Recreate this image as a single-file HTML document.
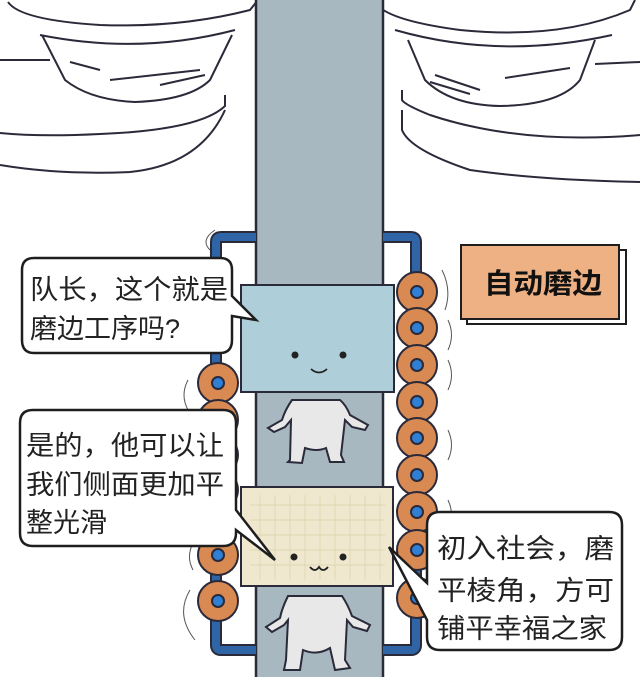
<!DOCTYPE html>
<html><head><meta charset="utf-8"><style>
body{margin:0;width:640px;height:677px;overflow:hidden;background:#fff}
svg{display:block}
text{font-family:"Liberation Sans","Noto Sans CJK SC",sans-serif;fill:#222}
</style></head><body>
<svg width="640" height="677" viewBox="0 0 640 677" xmlns="http://www.w3.org/2000/svg">
<g fill="none" stroke="#2a2a3a" stroke-width="2">
<!-- left machine -->
<path d="M0 60 L50 60"/>
<path d="M0 133 Q40 137 100 134 Q200 130 225 106 L225 95"/>
<path d="M0 165 Q60 175 130 172 Q200 165 225 110"/>
<path d="M8 2 Q20 20 100 25 Q180 28 250 10 L258 0"/>
<path d="M42 35 L65 80 Q90 100 135 102 Q190 100 210 80 L232 35"/>
<path d="M40 35 Q140 55 235 30"/>
<path d="M70 62 L100 70 M110 80 L200 70 M160 85 L205 75"/>
<!-- right machine -->
<path d="M640 62 L595 64"/>
<path d="M640 135 Q520 145 430 115 Q405 105 402 100 L402 90"/>
<path d="M640 182 Q540 180 470 170 Q410 150 402 130 L402 110"/>
<path d="M375 2 Q385 20 460 30 Q560 40 630 10 L635 0"/>
<path d="M408 40 L425 80 Q450 105 500 106 Q560 105 580 80 L595 40"/>
<path d="M395 30 Q500 60 612 35"/>
<path d="M435 75 L480 90 M505 78 L570 68 M430 82 L470 94"/>
</g>
<!-- belt -->
<rect x="256" y="-2" width="127" height="690" fill="#a8b8c0" stroke="#2a2a3a" stroke-width="2.5"/>
<!-- blue frame -->
<path d="M256 237 L221 237 Q216 237 216 242 L216 645 Q216 650 221 650 L256 650" fill="none" stroke="#2a2a3a" stroke-width="12"/>
<path d="M256 237 L221 237 Q216 237 216 242 L216 645 Q216 650 221 650 L256 650" fill="none" stroke="#2f65a6" stroke-width="8"/>
<path d="M383 237 L411 237 Q416 237 416 242 L416 645 Q416 650 411 650 L383 650" fill="none" stroke="#2a2a3a" stroke-width="12"/>
<path d="M383 237 L411 237 Q416 237 416 242 L416 645 Q416 650 411 650 L383 650" fill="none" stroke="#2f65a6" stroke-width="8"/>
<!-- rollers -->
<g stroke="#2a2a3a" stroke-width="2">
<g fill="#d98a52">
<circle cx="218" cy="383" r="20"/><circle cx="218" cy="420" r="20"/><circle cx="218" cy="455" r="20"/><circle cx="218" cy="490" r="20"/>
<circle cx="218" cy="555" r="20"/><circle cx="218" cy="601" r="20"/>
<circle cx="417" cy="292" r="20"/><circle cx="417" cy="328" r="20"/><circle cx="417" cy="365" r="20"/><circle cx="417" cy="402" r="20"/>
<circle cx="417" cy="438" r="20"/><circle cx="417" cy="475" r="20"/><circle cx="417" cy="512" r="20"/><circle cx="417" cy="550" r="20"/><circle cx="417" cy="598" r="20"/>
</g>
<g fill="#2f7fd4">
<circle cx="218" cy="383" r="6"/><circle cx="218" cy="555" r="6"/><circle cx="218" cy="601" r="6"/>
<circle cx="417" cy="292" r="6"/><circle cx="417" cy="328" r="6"/><circle cx="417" cy="365" r="6"/><circle cx="417" cy="402" r="6"/>
<circle cx="417" cy="438" r="6"/><circle cx="417" cy="475" r="6"/><circle cx="417" cy="512" r="6"/><circle cx="417" cy="550" r="6"/><circle cx="417" cy="598" r="6"/>
</g>
</g>
<!-- motion lines -->
<g fill="none" stroke="#555" stroke-width="1">
<path d="M442 270 Q452 290 445 310 M448 320 Q455 335 448 350 M448 360 Q455 375 448 390 M448 430 Q455 445 448 460 M448 500 Q455 515 448 530 M448 580 Q460 610 440 640"/>
<path d="M188 380 Q180 395 188 410 M190 590 Q175 615 195 640 M195 540 Q185 555 193 570 M210 250 Q200 240 215 230"/>
</g>
<!-- glass panes -->
<rect x="241" y="285" width="153" height="107" fill="#aecfd9" stroke="#2a2a3a" stroke-width="2"/>
<rect x="241" y="487" width="152" height="99" fill="#efe8cf" stroke="#2a2a3a" stroke-width="2"/>
<g stroke="#ddd0a8" stroke-width="0.7">
<path d="M260 495V580M275 495V580M290 495V580M305 495V580M320 495V580M335 495V580M350 495V580M365 495V580M380 495V580"/>
<path d="M250 505H385M250 520H385M250 535H385M250 550H385M250 565H385"/>
</g>
<!-- faces -->
<g fill="#222"><circle cx="295" cy="355" r="3.5"/><circle cx="343" cy="355" r="3.5"/><circle cx="294" cy="557" r="3.5"/><circle cx="343" cy="557" r="3.5"/></g>
<g fill="none" stroke="#222" stroke-width="1.8">
<path d="M311 369 Q319 376 327 369"/><path d="M310 567 Q315 573 319 567 Q323 573 328 567"/>
</g>
<!-- bodies -->
<g fill="#e8e8e8" stroke="#2a2a3a" stroke-width="2">
<path d="M292 400 Q285 410 282 420 L268 428 L274 432 L285 427 L291 420 L290 460 L288 462 L302 463 L305 448 Q317 452 326 448 L330 462 L344 462 L341 455 L345 420 L352 427 L365 430 L368 425 L350 415 Q346 405 340 400 Z"/>
<path d="M288 596 Q282 608 280 618 L266 627 L272 632 L284 625 L288 620 L286 660 L284 670 L300 670 L303 650 Q317 656 330 648 L335 670 L350 668 L345 660 L347 620 L353 627 L367 631 L370 625 L352 616 Q348 605 342 596 Z"/>
</g>
<!-- bubbles -->
<g fill="#fff" stroke="#1e1e1e" stroke-width="2.5">
<path d="M34 258 H220 Q232 258 232 270 V296 L256 320 L232 316 V340 Q232 353 220 353 H34 Q22 353 22 340 V270 Q22 258 34 258 Z"/>
<path d="M33 410 H223 Q236 410 236 423 V510 L275 560 L236 530 V533 Q236 546 223 546 H33 Q20 546 20 533 V423 Q20 410 33 410 Z"/>
<path d="M440 512 H609 Q622 512 622 525 V637 Q622 650 609 650 H440 Q427 650 427 637 V620 L389 547 L427 583 V525 Q427 512 440 512 Z"/>
</g>
<g font-size="27">
<text x="30" y="299" textLength="198" lengthAdjust="spacingAndGlyphs">队长，这个就是</text>
<text x="30" y="338">磨边工序吗?</text>
<text x="26" y="455" textLength="198" lengthAdjust="spacingAndGlyphs">是的，他可以让</text>
<text x="26" y="494" textLength="198" lengthAdjust="spacingAndGlyphs">我们侧面更加平</text>
<text x="26" y="532">整光滑</text>
<text x="437" y="558" textLength="177" lengthAdjust="spacingAndGlyphs">初入社会，磨</text>
<text x="437" y="600" textLength="177" lengthAdjust="spacingAndGlyphs">平棱角，方可</text>
<text x="437" y="638" textLength="170" lengthAdjust="spacingAndGlyphs">铺平幸福之家</text>
</g>
<!-- label -->
<rect x="467" y="250" width="159" height="74" fill="#fff" stroke="#1e1e1e" stroke-width="2"/>
<rect x="461" y="245" width="158" height="74" fill="#edb184" stroke="#1e1e1e" stroke-width="2"/>
<text x="484" y="293" font-size="28" font-weight="bold" textLength="118" lengthAdjust="spacingAndGlyphs" style="fill:#111">自动磨边</text>
</svg>
</body></html>
